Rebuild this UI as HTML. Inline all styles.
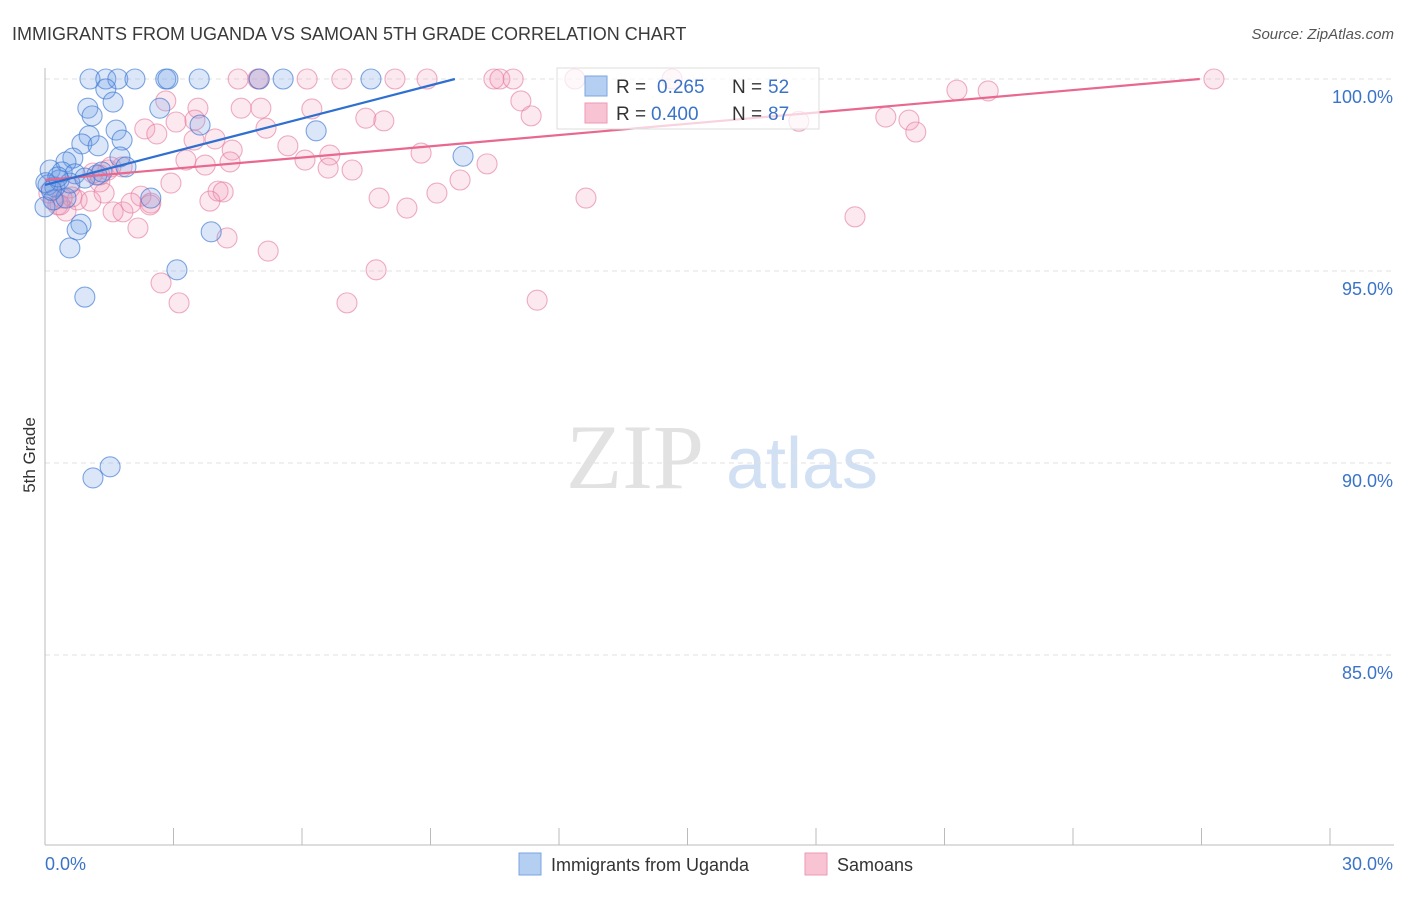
<!DOCTYPE html>
<html><head><meta charset="utf-8"><style>
body{margin:0;background:#fff;font-family:"Liberation Sans",sans-serif}
svg text{font-family:"Liberation Sans",sans-serif}
</style></head><body>
<svg id="c" width="1406" height="892" viewBox="0 0 1406 892">
<text x="12" y="40" font-size="18" fill="#3a3a3a">IMMIGRANTS FROM UGANDA VS SAMOAN 5TH GRADE CORRELATION CHART</text>
<text x="1394" y="39" font-size="15" fill="#555" font-style="italic" text-anchor="end">Source: ZipAtlas.com</text>
<text x="35" y="455" font-size="17" fill="#333" text-anchor="middle" transform="rotate(-90 35 455)">5th Grade</text>
<g>
<text x="635" y="488" font-size="92" fill="#e2e2e2" text-anchor="middle" style="font-family:'Liberation Serif',serif">ZIP</text>
<text x="802" y="488" font-size="72" fill="#d2e0f4" text-anchor="middle">atlas</text>
</g>
<g id="grid"></g><g id="axes"></g><g id="pts"></g><g id="lines"></g>
<g>
<rect x="557" y="68" width="262" height="61" fill="#fff" fill-opacity="0.7" stroke="#ddd"/>
<rect x="585" y="76" width="22" height="20" fill="#b5cff2" stroke="#7aa6e0"/>
<rect x="585" y="103" width="22" height="20" fill="#f8c3d3" stroke="#ec9ab4"/>
<text x="616" y="93" font-size="19" fill="#333">R = </text><text x="657" y="93" font-size="19" fill="#3b73c8">0.265</text>
<text x="732" y="93" font-size="19" fill="#333">N = </text><text x="768" y="93" font-size="19" fill="#3b73c8">52</text>
<text x="616" y="120" font-size="19" fill="#333">R = </text><text x="651" y="120" font-size="19" fill="#3b73c8">0.400</text>
<text x="732" y="120" font-size="19" fill="#333">N = </text><text x="768" y="120" font-size="19" fill="#3b73c8">87</text>
</g>
<g>
<rect x="519" y="853" width="22" height="22" fill="#b5cff2" stroke="#7aa6e0"/>
<text x="551" y="871" font-size="18" fill="#333">Immigrants from Uganda</text>
<rect x="805" y="853" width="22" height="22" fill="#f8c3d3" stroke="#ec9ab4"/>
<text x="837" y="871" font-size="18" fill="#333">Samoans</text>
</g>
</svg>
<script>
const yTicks=[100,95,90,85];
const yTickLabels=["100.0%","95.0%","90.0%","85.0%"];
const xTickCount=10;
const xLabels=["0.0%","30.0%"];
const ugX=[1.05,1.42,1.70,2.10,2.82,2.87,3.60,5.00,5.56,7.61,1.42,1.59,1.00,2.68,1.10,1.66,1.03,1.80,0.86,1.24,3.62,6.33,1.75,0.65,0.49,1.21,0.12,0.40,0.70,1.33,0.07,0.23,0.19,0.0,0.49,2.47,0.84,0.75,3.88,0.58,3.08,0.93,1.12,1.52,9.76,1.89,0.33,0.58,0.93,0.02,0.15,0.30];
const ugY=[100,100,100,100,100,100,100,100,100,100,99.74,99.40,99.24,99.24,99.04,98.67,98.52,98.41,98.31,98.26,98.80,98.65,97.97,97.94,97.84,97.50,97.63,97.58,97.53,97.58,97.24,97.19,96.85,96.67,96.90,96.90,96.22,96.07,96.02,95.60,95.03,94.32,89.61,89.90,97.99,97.71,97.37,97.29,97.42,97.30,97.10,97.45];
const saX=[4.51,4.97,6.12,6.93,8.17,8.92,10.48,10.62,10.93,12.37,14.64,27.29,21.29,22.02,2.82,11.11,3.57,4.58,5.04,6.23,7.49,7.91,11.35,19.63,20.17,20.33,2.33,2.61,3.06,3.50,5.16,3.48,3.97,4.37,5.67,6.65,6.07,3.29,3.74,1.80,1.47,1.54,6.61,7.17,8.78,10.32,9.69,2.94,1.28,0.58,1.38,2.24,2.47,4.04,4.16,3.85,7.80,8.45,9.15,12.63,18.91,0.21,0.30,0.49,0.75,1.07,1.59,1.82,2.01,2.45,2.17,4.25,5.21,7.73,2.71,3.13,7.05,11.49,4.32,0.63,0.40,0.09,1.12,1.28,0.35,17.6,5.0];
const saY=[100,100,100,100,100,100,100,100,100,100,100,100,99.71,99.69,99.43,99.43,99.24,99.24,99.24,99.22,98.98,98.91,99.04,99.01,98.93,98.62,98.70,98.57,98.88,98.93,98.72,98.41,98.44,98.15,98.26,98.02,97.89,97.89,97.76,97.71,97.63,97.71,97.68,97.63,98.07,97.79,97.37,97.29,97.32,97.16,97.03,96.95,96.77,97.08,97.06,96.82,96.90,96.64,97.03,96.90,96.41,96.85,96.72,96.56,96.85,96.82,96.54,96.54,96.77,96.72,96.12,95.86,95.52,95.03,94.69,94.17,94.17,94.24,97.84,96.93,96.90,97.03,97.55,97.50,96.72,98.9,100];
const ugFit=[97.24,100.0]; const ugFitX=[0,9.57];
const saFit=[97.37,100.0]; const saFitX=[0,26.96];
const X0=45,X1=1330,Y100=79,PXPER=38.4;
const sx=v=>X0+(X1-X0)*v/30;
const sy=v=>Y100+(100-v)*PXPER;
const NS="http://www.w3.org/2000/svg";
function mk(t,a,p){const e=document.createElementNS(NS,t);for(const k in a)e.setAttribute(k,a[k]);p.appendChild(e);return e;}
const grid=document.getElementById('grid'),axes=document.getElementById('axes'),pts=document.getElementById('pts'),lines=document.getElementById('lines');
yTicks.forEach((t,i)=>{
 const l=mk('line',{x1:X0,x2:1394,y1:sy(t),y2:sy(t),stroke:'#e0e0e0','stroke-dasharray':'5,4'},grid);
 
 
 const tx=mk('text',{x:1393,y:sy(t)+24,'font-size':18,fill:'#3b73c8','text-anchor':'end'},axes);
 tx.textContent=yTickLabels[i];
 
 
});
const ya=mk('line',{x1:X0,x2:X0,y1:68,y2:845,stroke:'#bbb'},axes);


const xa=mk('line',{x1:X0,x2:1394,y1:845,y2:845,stroke:'#bbb'},axes);


for(let i=0;i<=xTickCount;i++){
 const v=30*i/xTickCount;
 const t=mk('line',{x1:sx(v),x2:sx(v),y1:828,y2:845,stroke:'#bbb'},axes);
 
 
}
const xl0=mk('text',{x:45,y:870,'font-size':18,fill:'#3b73c8'},axes);xl0.textContent=xLabels[0];


const xl1=mk('text',{x:1393,y:870,'font-size':18,fill:'#3b73c8','text-anchor':'end'},axes);xl1.textContent=xLabels[1];


saX.forEach((x,i)=>{
 const c=mk('circle',{cx:sx(x),cy:sy(saY[i]),r:10,fill:'rgba(242,150,180,0.22)',stroke:'rgba(228,120,155,0.6)','stroke-width':1.1},pts);
 
 
});
ugX.forEach((x,i)=>{
 const c=mk('circle',{cx:sx(x),cy:sy(ugY[i]),r:10,fill:'rgba(110,160,230,0.25)',stroke:'rgba(60,120,210,0.65)','stroke-width':1.1},pts);
 
 
});
const l1=mk('line',{x1:sx(saFitX[0]),y1:sy(saFit[0]),x2:sx(saFitX[1]),y2:sy(saFit[1]),stroke:'#e8688f','stroke-width':2.2},lines);


const l2=mk('line',{x1:sx(ugFitX[0]),y1:sy(ugFit[0]),x2:sx(ugFitX[1]),y2:sy(ugFit[1]),stroke:'#2e6fd0','stroke-width':2.2},lines);


</script>
</body></html>
